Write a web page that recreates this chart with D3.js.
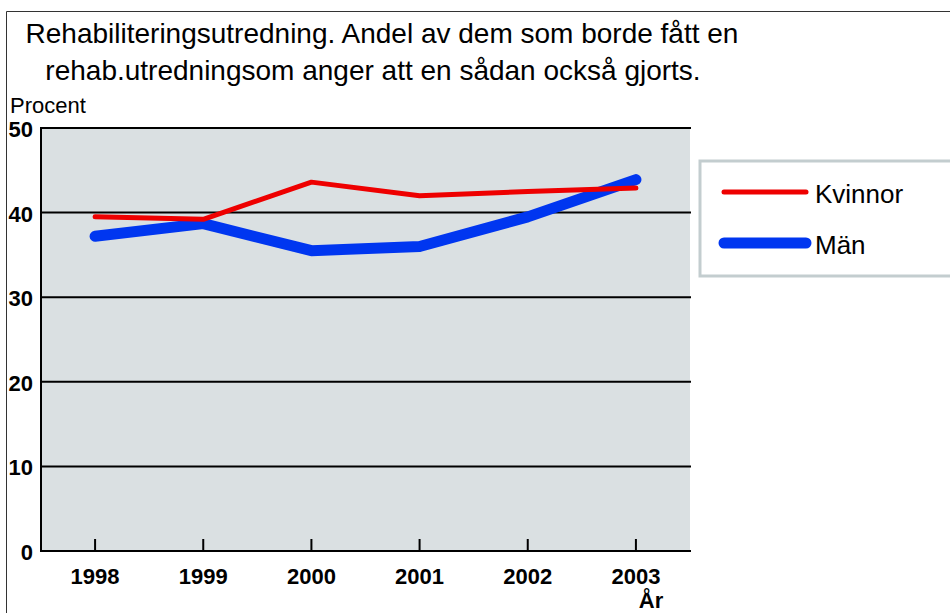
<!DOCTYPE html>
<html>
<head>
<meta charset="utf-8">
<script src="https://cdn.jsdelivr.net/npm/d3@7"></script>
<style>
  body { margin: 0; background: #fff; }
  text { font-family: "Liberation Sans", Arial, sans-serif; fill: #000; }
</style>
</head>
<body>
<div id="chart"></div>
<script>
var w = 950, h = 613;

// data
var years = ["1998", "1999", "2000", "2001", "2002", "2003"];
var kvinnor = [39.5, 39.2, 43.6, 42.0, 42.5, 42.9];
var man = [37.2, 38.7, 35.5, 36.0, 39.5, 43.9];
var yTicks = [0, 10, 20, 30, 40, 50];
var titleLines = ["Rehabiliteringsutredning. Andel av dem som borde fått en",
                  "rehab.utredningsom anger att en sådan också gjorts."];

var svg = d3.select("#chart").append("svg")
    .attr("width", w).attr("height", h);

// outer frame (left and top)
svg.append("path")
    .attr("d", "M6.5," + h + "V11.5H" + w)
    .attr("fill", "none").attr("stroke", "#333").attr("stroke-width", 1);

var x0 = 41, x1 = 690, yTop = 128, yBot = 551;

var x = d3.scaleBand().domain(years).range([x0, x1]);
var y = d3.scaleLinear().domain([0, 50]).range([yBot, yTop]);

// plot background
svg.append("rect")
    .attr("x", x0).attr("y", yTop)
    .attr("width", x1 - x0).attr("height", yBot - yTop)
    .attr("fill", "#dae0e2");

// gridlines
svg.append("g").selectAll("line").data(yTicks).enter().append("line")
    .attr("x1", x0).attr("x2", x1 + 1)
    .attr("y1", d => y(d)).attr("y2", d => y(d))
    .attr("stroke", "#000").attr("stroke-width", 2);

// left axis line
svg.append("line")
    .attr("x1", x0).attr("x2", x0).attr("y1", yTop - 1).attr("y2", yBot + 1)
    .attr("stroke", "#000").attr("stroke-width", 2);

// x ticks (pointing up)
svg.append("g").selectAll("line").data(years).enter().append("line")
    .attr("x1", d => x(d) + x.bandwidth() / 2).attr("x2", d => x(d) + x.bandwidth() / 2)
    .attr("y1", yBot).attr("y2", yBot - 12)
    .attr("stroke", "#000").attr("stroke-width", 2);

// y labels
svg.append("g").selectAll("text").data(yTicks).enter().append("text")
    .attr("x", 33).attr("y", d => y(d) + 9)
    .attr("text-anchor", "end")
    .attr("font-size", "22px").attr("font-weight", "bold")
    .text(d => d);

// x labels
svg.append("g").selectAll("text").data(years).enter().append("text")
    .attr("x", d => x(d) + x.bandwidth() / 2).attr("y", 584)
    .attr("text-anchor", "middle")
    .attr("font-size", "22px").attr("font-weight", "bold")
    .text(d => d);

// lines
var line = d3.line()
    .x((d, i) => x(years[i]) + x.bandwidth() / 2)
    .y(d => y(d));

svg.append("path").datum(man)
    .attr("d", line)
    .attr("fill", "none").attr("stroke", "#0036f0")
    .attr("stroke-width", 11).attr("stroke-linecap", "round")
    .attr("stroke-linejoin", "round");

svg.append("path").datum(kvinnor)
    .attr("d", line)
    .attr("fill", "none").attr("stroke", "#ee0000")
    .attr("stroke-width", 5).attr("stroke-linecap", "round")
    .attr("stroke-linejoin", "round");

// axis titles
svg.append("text").attr("x", 10).attr("y", 113)
    .attr("font-size", "22px").text("Procent");
svg.append("text").attr("x", 651).attr("y", 608)
    .attr("text-anchor", "middle")
    .attr("font-size", "22px").attr("font-weight", "bold").text("År");

// title
svg.append("g").selectAll("text").data(titleLines).enter().append("text")
    .attr("x", (d, i) => i == 0 ? 382 : 373)
    .attr("y", (d, i) => 43 + i * 37)
    .attr("text-anchor", "middle")
    .attr("font-size", "28px")
    .text(d => d);

// legend
var legend = svg.append("g");
legend.append("rect")
    .attr("x", 700).attr("y", 161).attr("width", 260).attr("height", 115)
    .attr("fill", "#fff").attr("stroke", "#c3cdcf").attr("stroke-width", 3);

var series = [
    { name: "Kvinnor", color: "#ee0000", width: 5, ly: 192 },
    { name: "Män", color: "#0036f0", width: 11, ly: 243 }
];
series.forEach(function (s) {
    legend.append("line")
        .attr("x1", 724).attr("x2", 806).attr("y1", s.ly).attr("y2", s.ly)
        .attr("stroke", s.color).attr("stroke-width", s.width)
        .attr("stroke-linecap", "round");
    legend.append("text")
        .attr("x", 815).attr("y", s.ly + 11)
        .attr("font-size", "26px").text(s.name);
});
</script>
</body>
</html>
